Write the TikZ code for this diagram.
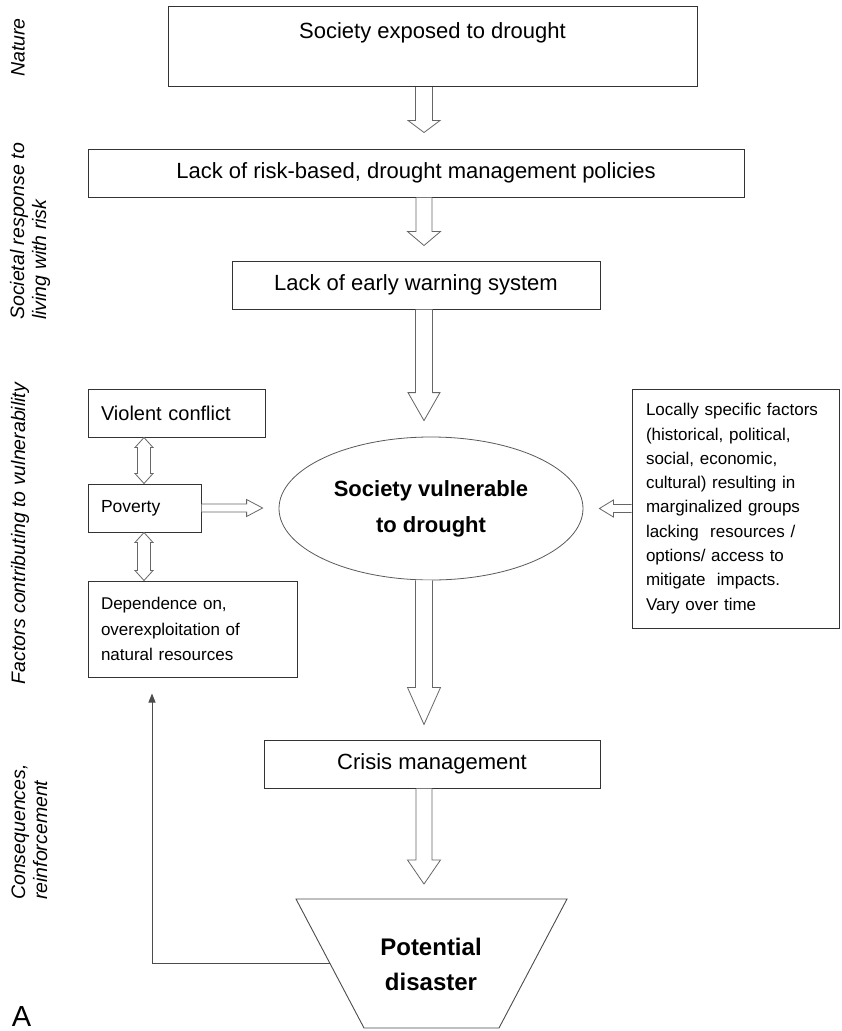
\documentclass[tikz,border=0pt]{standalone}
\usepackage{fontspec}
\setmainfont{Liberation Sans}
\usetikzlibrary{calc,shapes.geometric,arrows.meta}
\newcommand\fs[2]{\fontsize{#1}{#2}\selectfont}
% downward block arrow: from, to, half shaft, half head, head length, gap
\newcommand\vdn[6]{%
  \draw[blk] let \p1=(#1),\p2=(#2) in
   (\x1-#3,\y1) -- (\x1-#3,\y2+#6+#5) -- (\x1-#4,\y2+#6+#5) -- (\x1,\y2+#6)
   -- (\x1+#4,\y2+#6+#5) -- (\x1+#3,\y2+#6+#5) -- (\x1+#3,\y1);}
% rightward block arrow
\newcommand\hrt[6]{%
  \draw[blk] let \p1=(#1),\p2=(#2) in
   (\x1,\y1+#3) -- (\x2-#6-#5,\y1+#3) -- (\x2-#6-#5,\y1+#4) -- (\x2-#6,\y1)
   -- (\x2-#6-#5,\y1-#4) -- (\x2-#6-#5,\y1-#3) -- (\x1,\y1-#3);}
% leftward block arrow
\newcommand\hlt[6]{%
  \draw[blk] let \p1=(#1),\p2=(#2) in
   (\x1,\y1+#3) -- (\x2+#6+#5,\y1+#3) -- (\x2+#6+#5,\y1+#4) -- (\x2+#6,\y1)
   -- (\x2+#6+#5,\y1-#4) -- (\x2+#6+#5,\y1-#3) -- (\x1,\y1-#3);}
% vertical double block arrow: upper point, lower point, half shaft, half head, head length
\newcommand\vdbl[5]{%
  \draw[blk] let \p1=(#1),\p2=(#2) in
   (\x1,\y1) -- (\x1+#4,\y1-#5) -- (\x1+#3,\y1-#5) -- (\x1+#3,\y2+#5) -- (\x1+#4,\y2+#5)
   -- (\x1,\y2) -- (\x1-#4,\y2+#5) -- (\x1-#3,\y2+#5) -- (\x1-#3,\y1-#5) -- (\x1-#4,\y1-#5) -- cycle;}
\begin{document}
\begin{tikzpicture}[x=1pt,y=-1pt,
  box/.style={draw=black!80, line width=1pt, fill=white, inner sep=0pt, minimum height=48pt, font=\fs{22}{26}},
  sbox/.style={draw=black!80, line width=1pt, fill=white, inner xsep=13pt, inner ysep=0pt, align=left},
  blk/.style={draw=black!60, line width=0.8pt, fill=white, line join=miter},
  fb/.style={draw=black!70, line width=0.9pt, -{Triangle[length=9pt,width=7pt]}},
  lab/.style={font=\itshape\fs{19.5}{22}, rotate=90, align=left, inner sep=0pt}]
\useasboundingbox (0,0) rectangle (841,1031);
\coordinate (ax) at (424,0);
\coordinate (dx) at (144,0);
\coordinate (fx) at (152,0);

% main column
\node[box, minimum width=529pt, text height=32pt, text depth=48pt, anchor=north] (top) at (432.5,6) {Society exposed to drought};
\node[box, minimum width=656pt] (pol) at (416,173) {Lack of risk-based, drought management policies};
\node[box, minimum width=368pt] (ews) at (416,285) {Lack of early warning system};
\node[ellipse, draw=black!65, line width=0.8pt, fill=white, minimum width=304pt, minimum height=143pt, inner sep=0pt, align=center, font=\bfseries\fs{22}{36}] (ell) at (431,508.5) {Society vulnerable\\to drought};
\node[box, minimum width=336pt] (cri) at (432,764) {Crisis management};

% trapezoid
\draw[draw=black!70, line width=0.9pt, fill=white] (296,899) -- (567,899) -- (499,1028) -- (364,1028) -- cycle;
\coordinate (tra) at (431,899);
\coordinate (fbs) at (330,963);
\node[font=\bfseries\fs{24}{35}, align=center] (pd) at (431,964) {Potential\\disaster};

% left factors
\node[sbox, minimum width=177pt, minimum height=48pt, text width=151pt, font=\fs{20}{24}] (vc) at (176.5,413) {Violent conflict};
\node[sbox, minimum width=113pt, minimum height=48pt, text width=87pt, font=\fs{17.5}{21}] (pov) at (144.5,508) {Poverty};
\node[sbox, minimum width=209pt, minimum height=96pt, text width=183pt, font=\fs{17}{25.5}] (dep) at (192.5,629) {Dependence on,\\overexploitation of\\natural resources};

% right factors
\node[sbox, inner xsep=14pt, minimum width=207pt, minimum height=239pt, text width=179pt, font=\fs{17}{24.3}] (rb) at (735.5,508.5) {Locally specific factors\\(historical, political,\\social, economic,\\cultural) resulting in\\marginalized groups\\lacking~ resources /\\options/ access to\\mitigate~ impacts.\\Vary over time};

% block arrows
\vdn{top.south -| ax}{pol.north -| ax}{8.5pt}{16pt}{12pt}{16pt}
\vdn{pol.south -| ax}{ews.north -| ax}{8pt}{16.5pt}{14pt}{15pt}
\vdn{ews.south -| ax}{ell.north -| ax}{8.5pt}{16pt}{28pt}{16pt}
\vdn{ell.south -| ax}{cri.north -| ax}{8.5pt}{16.5pt}{37pt}{15pt}
\vdn{cri.south -| ax}{tra -| ax}{8pt}{16.5pt}{24pt}{15pt}
\hrt{pov.east}{ell.west}{4pt}{8.5pt}{16pt}{16pt}
\hlt{rb.west}{ell.east}{4pt}{8.5pt}{14pt}{16pt}
\vdbl{vc.south -| dx}{pov.north -| dx}{6.5pt}{9pt}{10pt}
\vdbl{pov.south -| dx}{dep.north -| dx}{6.5pt}{9pt}{10pt}

% feedback
\draw[fb] (fbs) -| ($(dep.south -| fx)+(0,16)$);

% side labels
\node[lab] (l1) at (18,47.5) {Nature};
\node[lab, anchor=west] (l2) at (30,320) {Societal response to\\living with risk};
\node[lab] (l3) at (20,533.5) {Factors contributing to vulnerability};
\node[lab, anchor=west] (l4) at (29.5,900) {Consequences,\\reinforcement};
\node[font=\fs{29}{31}, inner sep=0pt, anchor=base] (A) at (21.5,1026) {A};
\end{tikzpicture}
\end{document}
